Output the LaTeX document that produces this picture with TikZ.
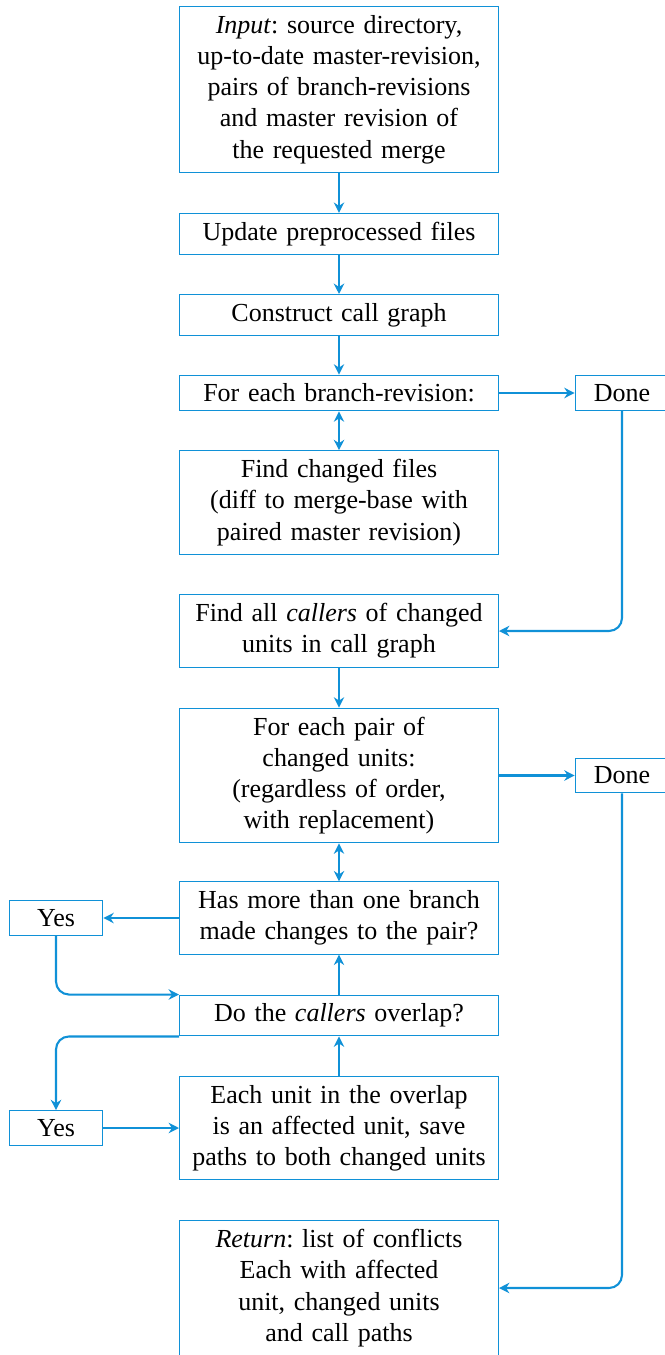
\documentclass[tikz,border=0pt]{standalone}
\usepackage{fontspec}
\setmainfont{Liberation Serif}
\usetikzlibrary{arrows.meta}

\definecolor{flowblue}{RGB}{16,145,215}
\frenchspacing

\begin{document}
\begin{tikzpicture}
        [x=0.3846pt, y=-0.3846pt,
        box/.style={draw=flowblue, text width=116pt, align=center, inner sep=3.33pt},
        small/.style={draw=flowblue, minimum width=36pt, inner sep=3.33pt},
        link/.style={flowblue, thick, -{Stealth[length=4pt, width=4pt, inset=1.3pt]}},
        both/.style={flowblue, thick, {Stealth[length=4pt, width=4pt, inset=1.3pt]}-{Stealth[length=4pt, width=4pt, inset=1.3pt]}}]

        \useasboundingbox (0,0) rectangle (664,1355);

        % main column
        \node[box] (input) at (339,89.5) {\emph{Input}: source directory, up-to-date master-revision, pairs of branch-revisions and master revision of the requested merge};
        \node[box] (update) at (339,234) {Update preprocessed files};
        \node[box] (construct) at (339,315) {Construct call graph};
        \node[box] (foreach) at (339,393) {For each branch-revision:};
        \node[box] (changed) at (339,502.5) {Find changed files\\(diff to merge-base with paired master revision)};
        \node[box] (callers) at (339,631) {Find all \emph{callers} of changed units in call graph};
        \node[box] (pair) at (339,775.5) {For each pair of\\changed units:\\(regardless of order,\\with replacement)};
        \node[box] (more) at (339,918) {Has more than one branch made changes to the pair?};
        \node[box] (overlap) at (339,1015.5) {Do the \emph{callers} overlap?};
        \node[box] (affected) at (339,1128) {Each unit in the overlap is an affected unit, save paths to both changed units};
        \node[box] (result) at (339,1288) {\emph{Return}: list of conflicts\\Each with affected\\unit, changed units\\and call paths};

        % side nodes
        \node[small] (done1) at (622,393) {Done};
        \node[small] (done2) at (622,775.5) {Done};
        \node[small] (yes1) at (56,918) {Yes};
        \node[small] (yes2) at (56,1128) {Yes};

        \draw[link] (input) -- (update);
        \draw[link] (update) -- (construct);
        \draw[link] (construct) -- (foreach);
        \draw[both] (foreach) -- (changed);
        \draw[link] (foreach) -- (done1);
        \draw[link, rounded corners=5pt] (done1) |- (callers);
        \draw[link] (callers) -- (pair);
        \draw[link] (pair) -- (done2);
        \draw[link, rounded corners=5pt] (done2) |- (result);
        \draw[both] (pair) -- (more);

        % inner loop
        \draw[link] (more) -- (yes1);
        \draw[link, rounded corners=5pt] (yes1) |- (overlap.north west);
        \draw[link, rounded corners=5pt] (overlap.south west) -| (yes2);
        \draw[link] (overlap) -- (more);
        \draw[link] (affected) -- (overlap);
        \draw[link] (yes2) -- (affected);
    \end{tikzpicture}
\end{document}
